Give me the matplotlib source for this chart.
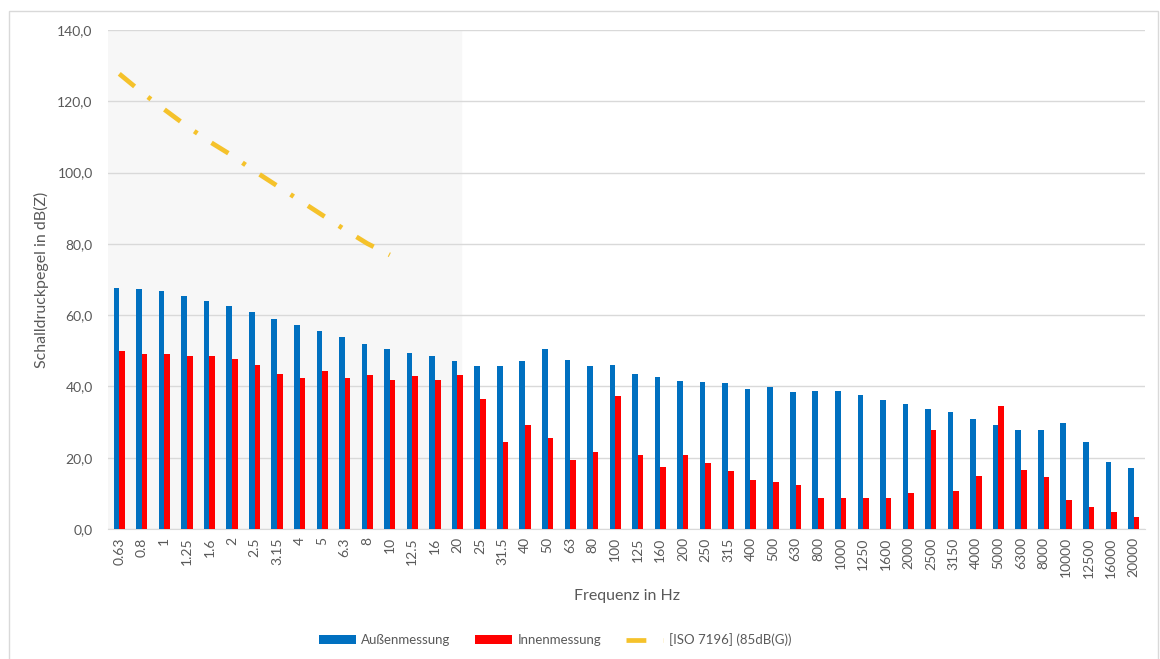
import matplotlib
matplotlib.use('Agg')
import matplotlib.pyplot as plt
from matplotlib.patches import Rectangle
from matplotlib.ticker import FuncFormatter
import numpy as np

plt.rcParams['font.family'] = ['Lato', 'DejaVu Sans']

frequenzen = ['0.63', '0.8', '1', '1.25', '1.6', '2', '2.5', '3.15', '4', '5', '6.3', '8', '10',
              '12.5', '16', '20', '25', '31.5', '40', '50', '63', '80', '100', '125', '160', '200',
              '250', '315', '400', '500', '630', '800', '1000', '1250', '1600', '2000', '2500',
              '3150', '4000', '5000', '6300', '8000', '10000', '12500', '16000', '20000']

aussen = [67.6, 67.3, 66.7, 65.5, 64.0, 62.6, 60.8, 59.0, 57.3, 55.6, 53.8, 52.0, 50.6,
          49.5, 48.5, 47.1, 45.6, 45.6, 47.2, 50.5, 47.5, 45.6, 45.9, 43.5, 42.6, 41.4,
          41.2, 40.9, 39.4, 39.7, 38.4, 38.8, 38.8, 37.6, 36.1, 35.0, 33.8, 32.7, 30.9,
          29.1, 27.7, 27.7, 29.7, 24.4, 18.8, 17.1]

innen = [49.8, 49.2, 49.2, 48.5, 48.5, 47.7, 45.9, 43.6, 42.5, 44.4, 42.5, 43.3, 41.9,
         43.0, 41.9, 43.3, 36.6, 24.5, 29.2, 25.6, 19.3, 21.5, 37.4, 20.7, 17.5, 20.7,
         18.6, 16.3, 13.7, 13.1, 12.3, 8.7, 8.6, 8.6, 8.6, 10.1, 27.7, 10.7, 14.8,
         34.6, 16.6, 14.5, 8.0, 6.3, 4.8, 3.4]

# ISO 7196 Kurve, nur 0.63 bis 10 Hz
iso_werte = [127.7, 122.5, 117.7, 113.0, 108.7, 104.8, 100.4, 96.3, 92.2, 88.1, 84.0, 80.1, 76.9]

grau = '#595959'
x = np.arange(len(frequenzen))
b = 0.25

fig = plt.figure(figsize=(11.6, 6.59), dpi=100)
fig.patches.append(Rectangle((9/1160, -0.01), 1149/1160, 1 - 11/659 + 0.01, transform=fig.transFigure,
                             fill=False, edgecolor='#d9d9d9', linewidth=1))
ax = fig.add_axes([108/1160, 130/659, 1037/1160, 499/659])

ax.axvspan(-0.5, 15.16, color='#f7f7f7', zorder=0)
ax.bar(x - b/2, aussen, b, color='#0070C0', label='Außenmessung', zorder=3)
ax.bar(x + b/2, innen, b, color='#FF0000', label='Innenmessung', zorder=3)
ax.plot(x[:len(iso_werte)], iso_werte, color='#F5C22B', linewidth=3.4,
        dashes=(4.2, 3.6, 0.8, 3.6), label='[ISO 7196] (85dB(G))', zorder=4)

ax.set_xlim(-0.5, len(frequenzen) - 0.5)
ax.set_ylim(0, 140)
ax.set_yticks(np.arange(0, 141, 20))
ax.yaxis.set_major_formatter(FuncFormatter(lambda v, p: ('%.1f' % v).replace('.', ',')))
ax.set_xticks(x)
ax.set_xticklabels(frequenzen, rotation=90)
ax.grid(axis='y', color='#d9d9d9', linewidth=1, zorder=1)
ax.set_axisbelow(True)
for s in ['top', 'right', 'left']:
    ax.spines[s].set_visible(False)
ax.spines['bottom'].set_color('#d9d9d9')
ax.tick_params(axis='both', length=0, colors=grau, labelsize=10)
ax.tick_params(axis='x', pad=6)
ax.tick_params(axis='y', pad=11)
ax.patch.set_alpha(0)

ax.set_ylabel('Schalldruckpegel in dB(Z)', color=grau, fontsize=11.5, labelpad=6)
ax.set_xlabel('Frequenz in Hz', color=grau, fontsize=11.5, labelpad=8)

h, l = ax.get_legend_handles_labels()
ordnung = [l.index('Außenmessung'), l.index('Innenmessung'), l.index('[ISO 7196] (85dB(G))')]
leg = fig.legend([h[i] for i in ordnung], [l[i] for i in ordnung], loc='center',
                 bbox_to_anchor=(555/1160, 1 - 640/659), ncol=3, frameon=False,
                 fontsize=9.5, handlelength=2.8, handleheight=0.7, columnspacing=1.9,
                 handletextpad=0.4)
for t in leg.get_texts():
    t.set_color(grau)

fig.savefig('out.png', dpi=100)
